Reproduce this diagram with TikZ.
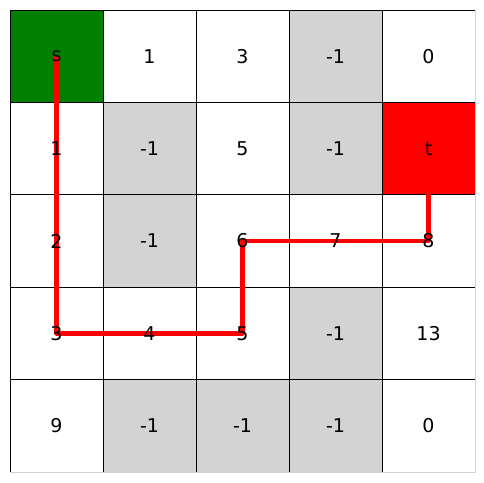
\documentclass[tikz,border=0pt]{standalone}
\usepackage{fontspec}
\setmainfont{DejaVu Sans}
\definecolor{mgreen}{RGB}{0,128,0}
\definecolor{mred}{RGB}{255,0,0}
\definecolor{mgray}{RGB}{211,211,211}
\begin{document}
\begin{tikzpicture}[x=1pt,y=-1pt,
  cell/.style={minimum width=93pt,minimum height=92.4pt,inner sep=0pt,draw=none,anchor=center},
  lbl/.style={inner sep=0pt,font=\fontsize{19}{22}\selectfont,text=black},
  gridline/.style={draw=black,line width=1pt},
  pathline/.style={draw=mred,line width=4.2pt,line join=round}]
\useasboundingbox (0,0) rectangle (484,482);
% cells
\foreach \r/\c/\f/\t in {
 0/0/mgreen/s, 0/1/white/1, 0/2/white/3, 0/3/mgray/-1, 0/4/white/0,
 1/0/white/1, 1/1/mgray/-1, 1/2/white/5, 1/3/mgray/-1, 1/4/mred/t,
 2/0/white/2, 2/1/mgray/-1, 2/2/white/6, 2/3/white/7, 2/4/white/8,
 3/0/white/3, 3/1/white/4, 3/2/white/5, 3/3/mgray/-1, 3/4/white/13,
 4/0/white/9, 4/1/mgray/-1, 4/2/mgray/-1, 4/3/mgray/-1, 4/4/white/0}
 {\node[cell,fill=\f] (c\r\c) at ({56.5+93*\c},{56.2+92.4*\r}) {};}
% grid lines
\foreach \i in {0,...,4} {
  \draw[gridline] ({10+93*\i},10) -- ({10+93*\i},472);
  \draw[gridline] (10,{10+92.4*\i}) -- (475,{10+92.4*\i});
}
\draw[draw=mgray,line width=1pt] (475,10) -- (475,472) -- (10,472);
% path
\draw[pathline] (c00.center) -- (c30.center) -- (c32.center) -- (c22.center) -- (c24.center) -- (c14.center);
% labels
\foreach \r/\c/\t in {
 0/0/s, 0/1/1, 0/2/3, 0/3/-1, 0/4/0,
 1/0/1, 1/1/-1, 1/2/5, 1/3/-1, 1/4/t,
 2/0/2, 2/1/-1, 2/2/6, 2/3/7, 2/4/8,
 3/0/3, 3/1/4, 3/2/5, 3/3/-1, 3/4/13,
 4/0/9, 4/1/-1, 4/2/-1, 4/3/-1, 4/4/0}
 {\node[lbl] (l\r\c) at (c\r\c.center) {\t};}
\end{tikzpicture}
\end{document}
